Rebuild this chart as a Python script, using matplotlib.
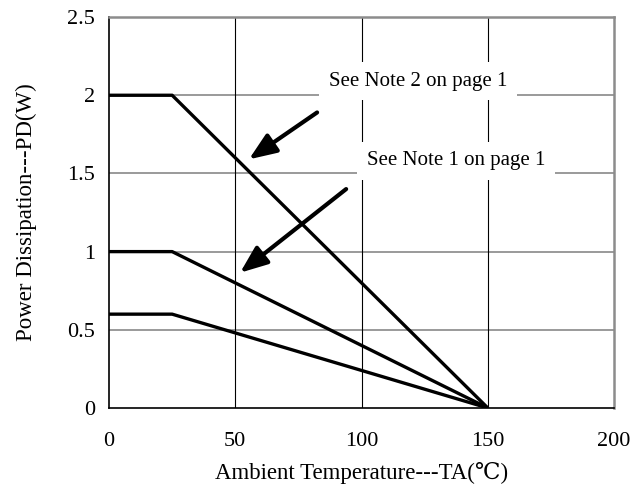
import matplotlib.pyplot as plt

plt.rcParams['font.family'] = ['Liberation Serif', 'DejaVu Serif', 'Noto Sans CJK SC']

# Datos de la curva de disipación (derating)
temp_a = [0, 25, 150]
pd_note2 = [2.0, 2.0, 0.0]
pd_note1 = [1.0, 1.0, 0.0]
pd_base = [0.6, 0.6, 0.0]

x_ticks = [0, 50, 100, 150, 200]
y_ticks = [0, 0.5, 1, 1.5, 2, 2.5]
y_tick_labels = ['0', '0.5', '1', '1.5', '2', '2.5']

notas = ['See Note 2 on page 1', 'See Note 1 on page 1']
nota_pos = [(122.4, 2.09), (137.4, 1.58)]
flecha_cola = [(82.4, 1.89), (93.9, 1.40)]
flecha_punta = [(55.4, 1.59), (51.9, 0.865)]

fig = plt.figure(figsize=(6.35, 4.88), dpi=100)
ax = fig.add_axes([0.1717, 0.164, 0.7953, 0.801])

ax.set_xlim(0, 200)
ax.set_ylim(0, 2.5)
ax.set_xticks(x_ticks)
ax.set_yticks(y_ticks)
ax.set_yticklabels(y_tick_labels)

# Rejilla: horizontales grises, verticales negras
for y in y_ticks[1:-1]:
    ax.axhline(y, color='#7f7f7f', lw=1.1, zorder=1)
for x in x_ticks[1:-1]:
    ax.axvline(x, color='black', lw=0.8, zorder=1)

ax.plot(temp_a, pd_note2, color='black', lw=2.4, zorder=3, solid_capstyle='butt')
ax.plot(temp_a, pd_note1, color='black', lw=2.4, zorder=3, solid_capstyle='butt')
ax.plot(temp_a, pd_base, color='black', lw=2.4, zorder=3, solid_capstyle='butt')

for texto, pos in zip(notas, nota_pos):
    ax.text(pos[0], pos[1], texto, fontsize=15, ha='center', va='center', zorder=2,
            bbox=dict(facecolor='white', edgecolor='none', pad=7))

for cola, punta in zip(flecha_cola, flecha_punta):
    ax.annotate('', xy=punta, xytext=cola, zorder=4,
                arrowprops=dict(arrowstyle='-|>,head_length=0.83,head_width=0.33',
                                mutation_scale=20, lw=3, color='black',
                                shrinkA=0, shrinkB=0))

ax.tick_params(length=0, labelsize=16)
ax.tick_params(axis='x', pad=17)
ax.tick_params(axis='y', pad=10)

ax.spines['left'].set_color('black')
ax.spines['bottom'].set_color('black')
ax.spines['left'].set_linewidth(1.2)
ax.spines['bottom'].set_linewidth(1.2)
ax.spines['top'].set_color('#8c8c8c')
ax.spines['right'].set_color('#8c8c8c')
ax.spines['top'].set_linewidth(1.8)
ax.spines['right'].set_linewidth(1.8)

ax.set_xlabel('Ambient Temperature---TA(℃)', fontsize=16.5, labelpad=8)
ax.set_ylabel('Power Dissipation---PD(W)', fontsize=16.5, labelpad=22)

plt.savefig('out.png', dpi=100)
